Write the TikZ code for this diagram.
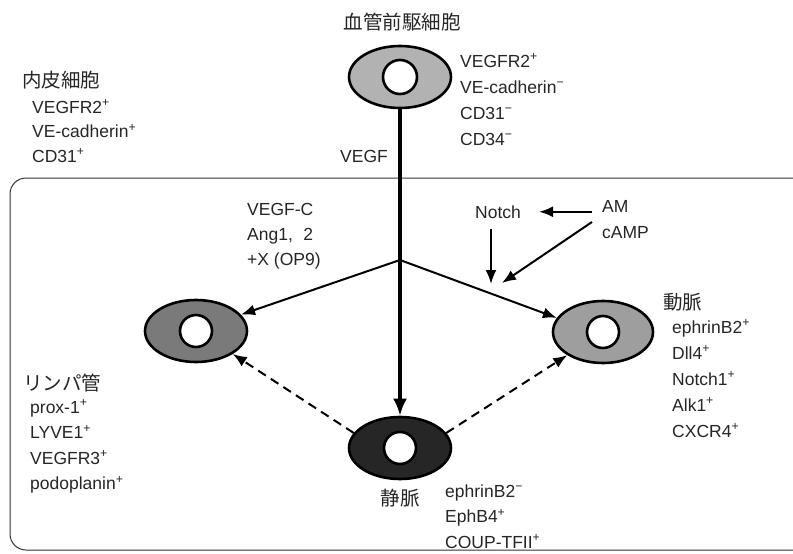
\documentclass[tikz,border=0pt]{standalone}
\usepackage{fontspec}
\setmainfont{Liberation Sans}
\newfontfamily\jpfont{Noto Sans CJK JP}
\usetikzlibrary{arrows.meta,shapes.geometric,calc}
\begin{document}
\begin{tikzpicture}[x=1pt,y=-1pt,
  cell/.style={ellipse, draw=black, line width=2.6pt, minimum width=102pt, minimum height=62pt, inner sep=0pt},
  hole/.style={circle, draw=black, line width=2.6pt, fill=white, minimum size=34pt, inner sep=0pt},
  lbl/.style={font=\fontsize{17.5}{20}\selectfont, inner sep=0pt, anchor=base west, text=black!85},
  jp/.style={font=\jpfont\fontsize{19.5}{22}\selectfont, inner sep=0pt, text=black!85},
  arr/.style={line width=2pt, -{Latex[length=14pt,width=11pt]}},
  darr/.style={arr, dash pattern=on 9pt off 6pt},
  frame/.style={draw=black!80, line width=1pt, rounded corners=16pt}]
\useasboundingbox (0,0) rectangle (793,554);
\fill[white] (0,0) rectangle (793,554);
% frame
\draw[frame] (830,178) -- (10,178) -- (10,550) -- (830,550);
% cells
\node[cell, fill=black!30] (prog) at (400,77) {};
\node[hole] (progh) at (prog.center) {};
\node[cell, fill=black!52] (lymph) at (196,331) {};
\node[hole, minimum size=32pt] (lymphh) at (lymph.center) {};
\node[cell, fill=black!38, minimum width=100pt] (art) at (603,332) {};
\node[hole, minimum size=32pt] (arth) at (art.center) {};
\node[cell, fill=black!85] (vein) at (400,448) {};
\node[hole, minimum size=32pt] (veinh) at (vein.center) {};
% titles
\node[jp, anchor=center] (tprog) at (402,22) {血管前駆細胞};
\node[jp, anchor=west] (tendo) at (22,80) {内皮細胞};
\node[jp, anchor=west] (tart) at (663,302) {動脈};
\node[jp, anchor=west] (tlymph) at (23,383) {リンパ管};
\node[jp, anchor=center] (tvein) at (400,498) {静脈};
% marker lists
\foreach \t [count=\i from 0] in {VEGFR2\textsuperscript{+}, VE-cadherin\textsuperscript{+}, CD31\textsuperscript{+}}
  \node[lbl] (endo\i) at (32,{113+24.5*\i}) {\t};
\foreach \t [count=\i from 0] in {VEGFR2\textsuperscript{+}, VE-cadherin\textsuperscript{−}, CD31\textsuperscript{−}, CD34\textsuperscript{−}}
  \node[lbl] (progm\i) at (460,{67+26*\i}) {\t};
\node[lbl, anchor=base east] (vegf) at (388,162) {VEGF};
\foreach \t [count=\i from 0] in {VEGF-C, {Ang1,\hspace{0.6em}2}, +X (OP9)}
  \node[lbl] (fac\i) at (247,{215+25*\i}) {\t};
\node[lbl, anchor=base] (notch) at (498,218) {Notch};
\node[lbl] (am) at (602,212) {AM};
\node[lbl] (camp) at (602,238) {cAMP};
\foreach \t [count=\i from 0] in {ephrinB2\textsuperscript{+}, Dll4\textsuperscript{+}, Notch1\textsuperscript{+}, Alk1\textsuperscript{+}, CXCR4\textsuperscript{+}}
  \node[lbl] (artm\i) at (672,{333+26*\i}) {\t};
\foreach \t [count=\i from 0] in {prox-1\textsuperscript{+}, LYVE1\textsuperscript{+}, VEGFR3\textsuperscript{+}, podoplanin\textsuperscript{+}}
  \node[lbl] (lymm\i) at (30,{413+25.5*\i}) {\t};
\foreach \t [count=\i from 0] in {ephrinB2\textsuperscript{−}, EphB4\textsuperscript{+}, COUP-TFII\textsuperscript{+}}
  \node[lbl] (veinm\i) at (445,{497+25.5*\i}) {\t};
% connectors
\coordinate (j) at (400,260);
\draw[line width=4.5pt, -{Latex[length=17pt,width=14pt]}] (prog) -- (vein);
\draw[arr] (j) -- (lymph.20);
\draw[arr] (j) -- (art.163);
\coordinate (nt) at (491,284);
\path (notch.south -| nt) ++(0,11) coordinate (ns);
\draw[arr] (ns) -- (nt);
\draw[arr] ($(am.west |- notch.east)+(-10,0)$) -- ($(notch.east)+(18,0)$);
\coordinate (ct) at (502,283);
\draw[arr] ($(am.west)+(-10,16)$) -- (ct);
\draw[darr] (vein.162) -- (lymph.-32);
\draw[darr] (vein.18) -- (art.213);
\end{tikzpicture}
\end{document}
